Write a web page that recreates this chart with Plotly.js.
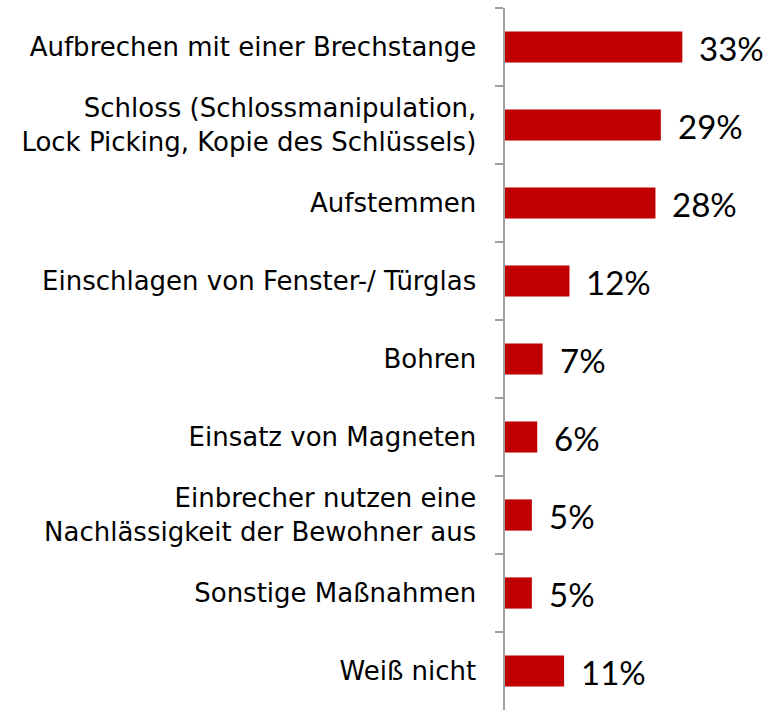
<!DOCTYPE html>
<html>
<head>
<meta charset="utf-8">
<script src="https://cdn.plot.ly/plotly-3.0.1.min.js"></script>
<style>html,body{margin:0;padding:0;background:#fff;}#chart{width:771px;height:712px;}</style>
</head>
<body>
<div id="chart"></div>
<script>
const categories = [
  "Aufbrechen mit einer Brechstange",
  "Schloss (Schlossmanipulation,<br>Lock Picking, Kopie des Schlüssels)",
  "Aufstemmen",
  "Einschlagen von Fenster-/ Türglas",
  "Bohren",
  "Einsatz von Magneten",
  "Einbrecher nutzen eine<br>Nachlässigkeit der Bewohner aus",
  "Sonstige Maßnahmen",
  "Weiß nicht"
];
const values = [33, 29, 28, 12, 7, 6, 5, 5, 11];
const valueLabels = values.map(v => v + "%");

const trace = {
  type: "bar",
  orientation: "h",
  y: categories,
  x: values,
  marker: {color: "#C00000"},
  width: 0.4,
  hoverinfo: "none"
};

const annotations = categories.map((c, i) => ({
  x: values[i], y: c, xref: "x", yref: "y",
  text: valueLabels[i], showarrow: false,
  xanchor: "left", yanchor: "middle", xshift: 15, yshift: -1,
  font: {family: "Lato, 'Liberation Sans', sans-serif", size: 33, color: "#000"}
}));

const layout = {
  width: 771, height: 712,
  margin: {l: 505, r: 0, t: 8, b: 2},
  paper_bgcolor: "#fff", plot_bgcolor: "#fff",
  showlegend: false,
  xaxis: {range: [0, 49.5], visible: false, fixedrange: true},
  yaxis: {
    autorange: "reversed",
    showline: true, linecolor: "#A0A0A0", linewidth: 2.5,
    ticks: "outside", tickson: "boundaries", ticklen: 8, tickwidth: 2, tickcolor: "#A0A0A0",
    showgrid: false, zeroline: false,
    ticklabelstandoff: 21,
    tickfont: {family: "'DejaVu Sans', sans-serif", size: 26, color: "#000"}
  },
  annotations: annotations
};

Plotly.newPlot("chart", [trace], layout, {displayModeBar: false, staticPlot: true});
</script>
</body>
</html>
